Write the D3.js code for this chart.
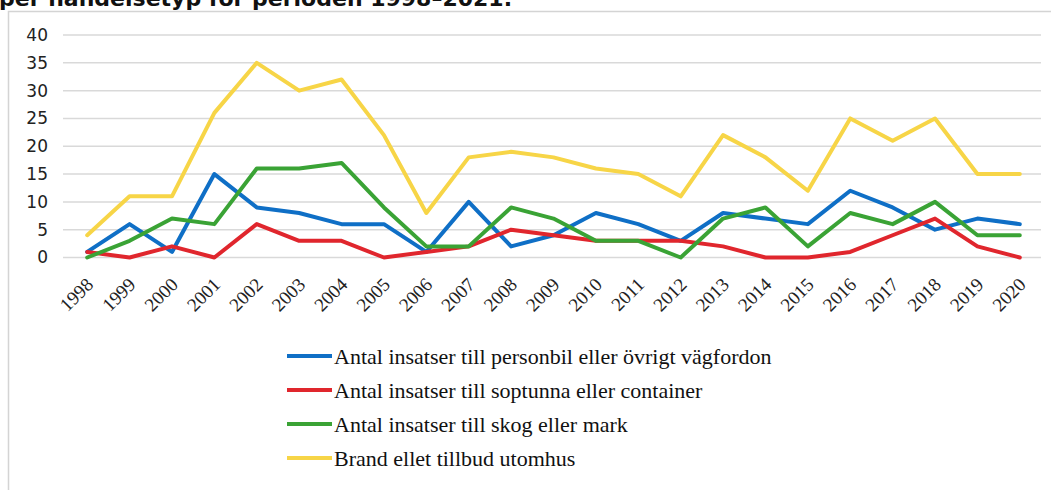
<!DOCTYPE html>
<html>
<head>
<meta charset="utf-8">
<script src="https://cdn.jsdelivr.net/npm/d3@7"></script>
<style>
  body { margin: 0; background: #fff; }
  svg { display: block; }
</style>
</head>
<body>
<script>
// years on the x axis
var years = ['1998', '1999', '2000', '2001', '2002', '2003', '2004', '2005',
             '2006', '2007', '2008', '2009', '2010', '2011', '2012', '2013',
             '2014', '2015', '2016', '2017', '2018', '2019', '2020'];

var seriesNames = [
  'Antal insatser till personbil eller övrigt vägfordon',
  'Antal insatser till soptunna eller container',
  'Antal insatser till skog eller mark',
  'Brand ellet tillbud utomhus'
];

var personbil = [1, 6, 1, 15, 9, 8, 6, 6, 1, 10, 2, 4, 8, 6, 3, 8, 7, 6, 12, 9, 5, 7, 6];
var soptunna  = [1, 0, 2, 0, 6, 3, 3, 0, 1, 2, 5, 4, 3, 3, 3, 2, 0, 0, 1, 4, 7, 2, 0];
var skog      = [0, 3, 7, 6, 16, 16, 17, 9, 2, 2, 9, 7, 3, 3, 0, 7, 9, 2, 8, 6, 10, 4, 4];
var utomhus   = [4, 11, 11, 26, 35, 30, 32, 22, 8, 18, 19, 18, 16, 15, 11, 22, 18, 12, 25, 21, 25, 15, 15];

var yTicks = [0, 5, 10, 15, 20, 25, 30, 35, 40];

var titleText = 'per händelsetyp för perioden 1998–2021.';

var colors = ['#0f6fc6', '#e0262d', '#3aa335', '#f7d547'];

(function () {
  'use strict';

  var W = 1051, H = 490;
  var allSeries = [personbil, soptunna, skog, utomhus];

  var svg = d3.select('body').append('svg')
      .attr('width', W)
      .attr('height', H);

  // title of the page above, only its lower part shows
  svg.append('text')
      .attr('x', -1)
      .attr('y', 6)
      .style('font-family', '"DejaVu Sans", sans-serif')
      .style('font-weight', 'bold')
      .style('font-size', '22px')
      .style('fill', '#111')
      .text(titleText);

  // chart frame (left + top edges)
  svg.append('path')
      .attr('d', 'M8.5 ' + H + ' L8.5 11.5 L' + W + ' 11.5')
      .style('fill', 'none')
      .style('stroke', '#d4d4d4')
      .style('stroke-width', 1.5);

  var x = d3.scalePoint()
      .domain(years)
      .range([66, 1041])
      .padding(0.5);

  var y = d3.scaleLinear()
      .domain([0, 40])
      .range([257.5, 35]);

  // horizontal gridlines
  svg.append('g')
      .selectAll('line')
      .data(yTicks)
      .join('line')
      .attr('x1', 63)
      .attr('x2', 1041)
      .attr('y1', function (d) { return y(d); })
      .attr('y2', function (d) { return y(d); })
      .style('stroke', '#d9d9d9')
      .style('stroke-width', 1.5);

  // y axis labels
  var yAxis = d3.axisLeft(y).tickValues(yTicks).tickSize(0).tickPadding(0);
  svg.append('g')
      .attr('transform', 'translate(48,0)')
      .call(yAxis)
      .call(function (g) {
        g.select('.domain').remove();
        g.selectAll('text')
            .style('font-family', '"DejaVu Sans", sans-serif')
            .style('font-size', '17px')
            .style('fill', '#222');
      });

  // x axis labels, rotated
  var xAxis = d3.axisBottom(x).tickSize(0).tickPadding(0);
  svg.append('g')
      .attr('transform', 'translate(2,' + 281 + ')')
      .call(xAxis)
      .call(function (g) {
        g.select('.domain').remove();
        g.selectAll('text')
            .attr('dy', '0.35em')
            .attr('y', 0)
            .attr('x', 0)
            .attr('transform', 'rotate(-45)')
            .style('text-anchor', 'end')
            .style('font-family', '"Liberation Serif", serif')
            .style('font-size', '19px')
            .style('fill', '#222');
      });

  var line = d3.line()
      .x(function (d, i) { return x(years[i]); })
      .y(function (d) { return y(d); });

  svg.append('g')
      .selectAll('path')
      .data(allSeries)
      .join('path')
      .attr('d', line)
      .style('fill', 'none')
      .style('stroke', function (d, i) { return colors[i]; })
      .style('stroke-width', 4)
      .style('stroke-linejoin', 'round')
      .style('stroke-linecap', 'round');

  // legend
  var legend = svg.append('g')
      .selectAll('g')
      .data(seriesNames)
      .join('g')
      .attr('transform', function (d, i) { return 'translate(287,' + (356 + i * 34) + ')'; });

  legend.append('line')
      .attr('x1', 0)
      .attr('x2', 45)
      .style('stroke', function (d, i) { return colors[i]; })
      .style('stroke-width', 4);

  legend.append('text')
      .attr('x', 47)
      .attr('dy', '0.35em')
      .style('font-family', '"Liberation Serif", serif')
      .style('font-size', '22px')
      .style('fill', '#111')
      .text(function (d) { return d; });
})();
</script>
</body>
</html>
